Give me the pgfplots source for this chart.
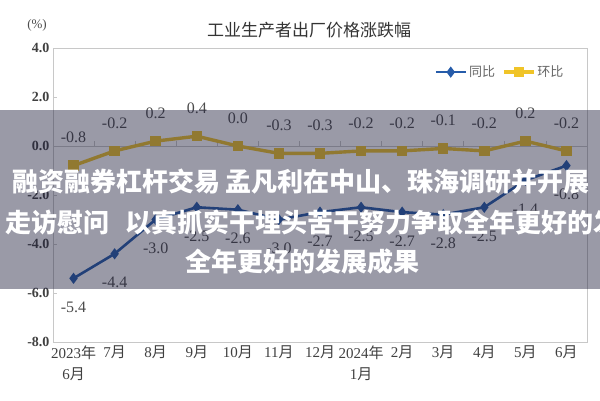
\documentclass[border=0pt]{standalone}
\usepackage{pgfplots}
\usepackage{pgfplotstable}
\pgfplotsset{compat=1.18}
\usepackage{fontspec}
\setmainfont{Liberation Serif}
\newfontfamily\cjk{Noto Sans CJK SC}

\definecolor{yoy}{RGB}{38,92,170}
\definecolor{mom}{RGB}{240,196,40}
\definecolor{veil}{RGB}{30,30,60}
\definecolor{frame}{RGB}{200,200,200}

% month, year-on-year, month-on-month (%)
\pgfplotstableread{
x   yoy   mom
0   -5.4  -0.8
1   -4.4  -0.2
2   -3.0   0.2
3   -2.5   0.4
4   -2.6   0.0
5   -3.0  -0.3
6   -2.7  -0.3
7   -2.5  -0.2
8   -2.7  -0.2
9   -2.8  -0.1
10  -2.5  -0.2
11  -1.4   0.2
12  -0.8  -0.2
}\ppi

\begin{document}
\begin{tikzpicture}
\useasboundingbox (0pt,0pt) rectangle (600pt,400pt);
\node[font=\cjk\fontsize{17}{20}\selectfont, text=black!80] at (309pt,370pt) {工业生产者出厂价格涨跌幅};
\node[font=\fontsize{13}{15}\selectfont, text=black!70] at (37pt,375pt) {(\%)};

\begin{axis}[
    at={(53pt,58pt)}, anchor=south west,
    scale only axis, width=534pt, height=294pt,
    xmin=-0.5, xmax=12.5, ymin=-8, ymax=4,
    axis line style={frame},
    /pgf/number format/.cd, fixed, fixed zerofill, precision=1, assume math mode=true, /pgfplots/.cd,
    xtick={0,...,12},
    xticklabels={{2023{\cjk 年}\\6{\cjk 月}}, 7{\cjk 月}, 8{\cjk 月}, 9{\cjk 月}, 10{\cjk 月}, 11{\cjk 月}, 12{\cjk 月},
                 {2024{\cjk 年}\\1{\cjk 月}}, 2{\cjk 月}, 3{\cjk 月}, 4{\cjk 月}, 5{\cjk 月}, 6{\cjk 月}},
    x tick style={draw=none},
    xticklabel style={align=center, font=\fontsize{15}{21}\selectfont, text=black!75},
    ytick={-8,-6,...,4},
    ytick pos=left, tick align=inside, major tick length=4pt,
    y tick style={frame},
    yticklabel style={font=\bfseries\fontsize{14}{16}\selectfont, text=black!75},
    legend columns=2,
    legend style={draw=none, fill=none, at={(0.837,0.918)}, anchor=center,
        font=\cjk\fontsize{13}{15}\selectfont, text=black!60,
        /tikz/every even column/.append style={column sep=5pt}},
    legend image code/.code={\draw[#1, mark repeat=2, mark phase=2] plot coordinates {(0pt,0pt) (15pt,0pt) (30pt,0pt)};},
    nodes near coords,
    point meta=y,
]
\draw[frame, line width=1pt] (axis cs:-0.5,0) -- (axis cs:12.5,0);
\pgfplotsinvokeforeach{0.5,1.5,2.5,3.5,4.5,5.5,6.5,7.5,8.5,9.5,10.5,11.5}{
  \draw[frame, line width=0.8pt] (axis cs:#1,0) -- (axis cs:#1,0.22);
}
\addplot[yoy, line width=2.6pt, mark=diamond*, mark size=3.5pt,
    every node near coord/.append style={anchor=center, yshift=-29pt,
        font=\fontsize{16}{18}\selectfont, text=black!70}]
    table[x=x, y=yoy] {\ppi};
\addlegendentry{同比}
\addplot[mom, line width=3.4pt, mark=square*, mark size=3.5pt,
    every node near coord/.append style={anchor=center, yshift=28pt,
        font=\fontsize{16}{18}\selectfont, text=black!70}]
    table[x=x, y=mom] {\ppi};
\addlegendentry{环比}
\end{axis}

\fill[veil, fill opacity=0.45] (0pt,111pt) rectangle (600pt,290pt);
\begin{scope}[every node/.style={font=\cjk\bfseries\fontsize{26}{28}\selectfont, text=white, inner sep=0pt}]
\node[anchor=west] at (12pt,218pt) {融资融券杠杆交易\hspace{5pt}孟凡利在中山、珠海调研并开展};
\node[anchor=west] at (5pt,177pt) {走访慰问\hspace{16pt}以真抓实干埋头苦干努力争取全年更好的发展成果};
\node[anchor=west] at (185pt,138pt) {全年更好的发展成果};
\end{scope}
\end{tikzpicture}
\end{document}
